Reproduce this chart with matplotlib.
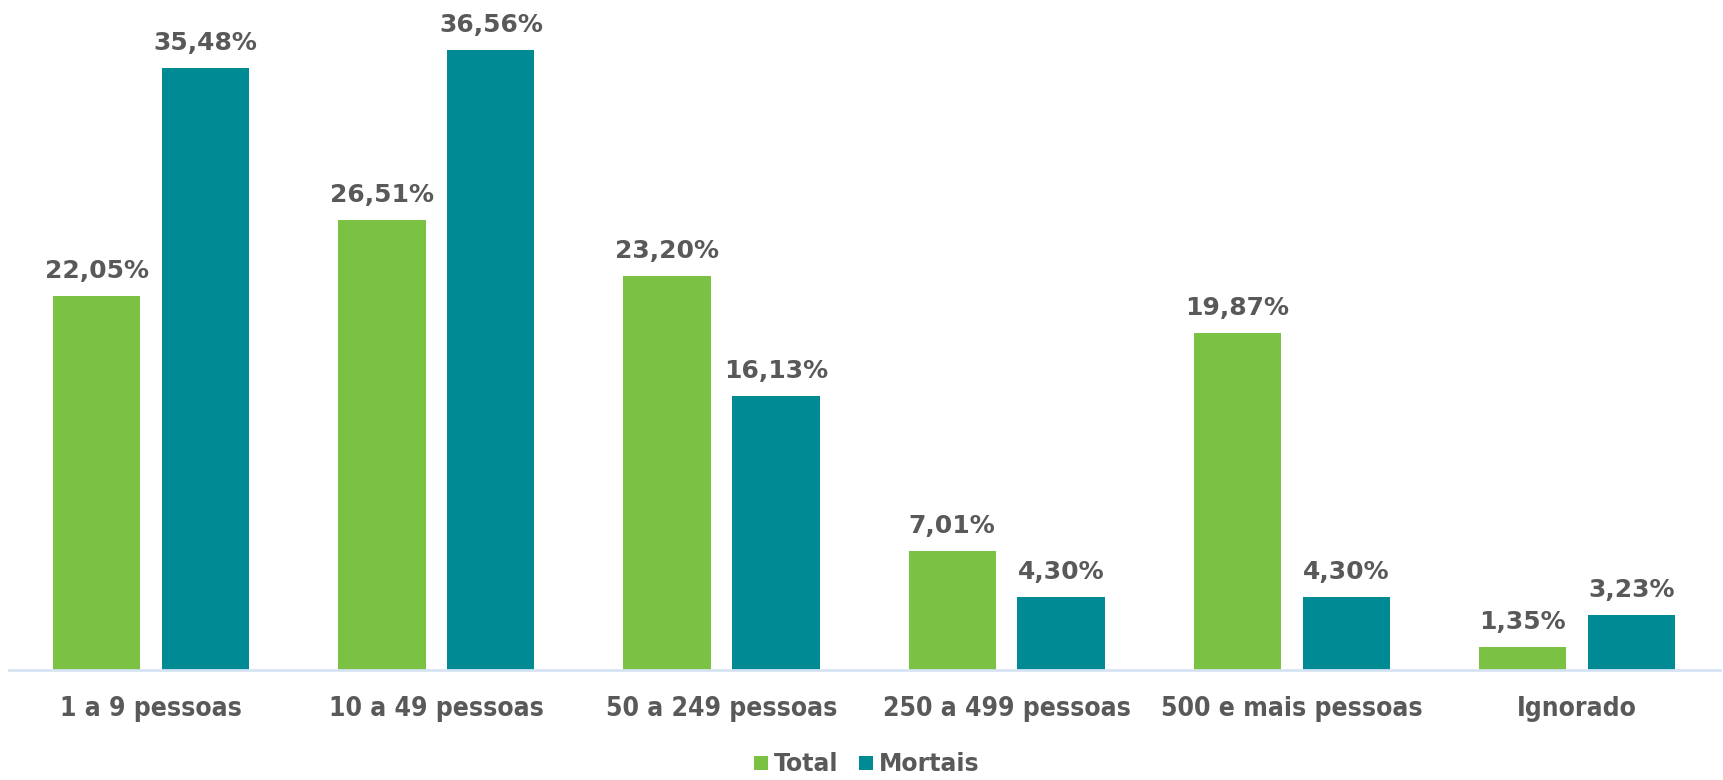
import matplotlib.pyplot as plt
import numpy as np

categorias = ['1 a 9 pessoas', '10 a 49 pessoas', '50 a 249 pessoas',
              '250 a 499 pessoas', '500 e mais pessoas', 'Ignorado']
total = [22.05, 26.51, 23.20, 7.01, 19.87, 1.35]
mortais = [35.48, 36.56, 16.13, 4.30, 4.30, 3.23]

cor_total = '#7BC143'
cor_mortais = '#008A93'
cor_texto = '#595959'


def rotular(ax, barras, valores):
    # rótulos com vírgula decimal, no estilo do original
    for b, v in zip(barras, valores):
        ax.annotate(f'{v:.2f}%'.replace('.', ','),
                    (b.get_x() + b.get_width() / 2, b.get_height()),
                    xytext=(0, 13), textcoords='offset points',
                    ha='center', va='baseline', fontsize=18,
                    fontweight='bold', color=cor_texto)


def main():
    plt.rcParams['font.family'] = ['DejaVu Sans']
    fig = plt.figure(figsize=(17.23, 7.80), dpi=100)
    ax = fig.add_axes([0.005, 0.141, 0.993, 0.859])

    x = np.arange(len(categorias))
    largura = 0.306
    desloc = 0.191
    b1 = ax.bar(x - desloc, total, largura, color=cor_total, label='Total')
    b2 = ax.bar(x + desloc, mortais, largura, color=cor_mortais, label='Mortais')
    rotular(ax, b1, total)
    rotular(ax, b2, mortais)

    ax.set_xlim(-0.5, len(categorias) - 0.5)
    ax.set_ylim(0, 39.5)
    ax.set_yticks([])
    ax.set_xticks(x)
    ax.set_xticklabels(categorias, fontsize=19, fontweight='bold',
                       fontstretch='condensed', color=cor_texto)
    ax.tick_params(axis='x', length=0, pad=19)
    for s in ['top', 'right', 'left']:
        ax.spines[s].set_visible(False)
    ax.spines['bottom'].set_color('#D6E3F3')
    ax.spines['bottom'].set_linewidth(2)

    leg = fig.legend(loc='center', bbox_to_anchor=(0.503, 0.02), ncol=2,
                     frameon=False, borderpad=0, handlelength=0.59,
                     handleheight=0.55, handletextpad=0.25, columnspacing=0.9,
                     prop={'size': 17, 'weight': 'bold'})
    for t in leg.get_texts():
        t.set_color(cor_texto)

    fig.savefig('out.png', dpi=100)


if __name__ == '__main__':
    main()
